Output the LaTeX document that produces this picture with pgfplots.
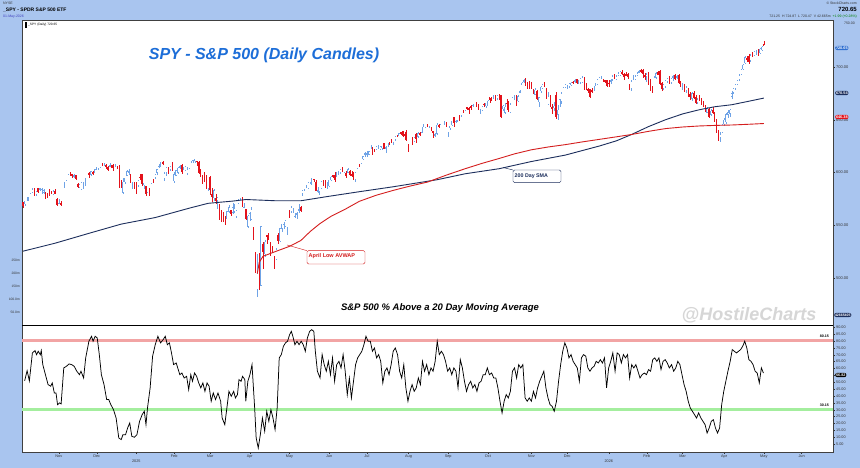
\documentclass[border=0pt]{standalone}
\usepackage{pgfplots}
\pgfplotsset{compat=1.18}
\usepackage{pgfplotstable}
\usepackage{fontspec}
\setmainfont{Liberation Sans}
\definecolor{bgblue}{HTML}{A9C5EF}
\definecolor{upc}{HTML}{6FA3E6}
\definecolor{dnc}{HTML}{E3121B}
\definecolor{smac}{HTML}{1C2E5C}
\definecolor{vwapc}{HTML}{D41E1E}
\definecolor{titlec}{HTML}{1D6ED8}
\definecolor{pinkband}{HTML}{F2A4A4}
\definecolor{greenband}{HTML}{A4EE9E}
\definecolor{labc}{HTML}{333333}
\definecolor{markblue}{HTML}{2F6FD0}

% SPY daily candles: open high low close (from 7-Oct-2024 to 1-May-2026)
\pgfplotstableread[row sep=\\]{
o h l c\\
572 572 566 568\\ 570 573 568 573\\ 573 577 573 577\\ 575 577 573 576\\ 575 580 575 580\\ 581 585 581 584\\ 585 585 578 580\\ 580 582 578 582\\
585 585 581 582\\ 584 585 582 585\\ 584 585 580 584\\ 581 584 580 583\\ 581 581 575 578\\ 580 580 576 579\\ 582 584 578 579\\ 582 582 580 581\\
580 583 579 582\\ 582 584 580 580\\ 575 576 568 569\\
571 575 570 571\\ 571 573 568 570\\ 571 577 571 577\\ 590 591 585 591\\ 593 596 592 596\\ 596 599 596 598\\ 600 600 597 599\\ 598 599 595 597\\
597 599 595 597\\ 597 597 593 594\\ 589 590 585 586\\ 586 589 585 588\\ 584 591 584 590\\ 590 591 584 591\\ 593 595 587 594\\ 593 596 593 596\\
599 600 595 598\\ 598 601 597 601\\ 600 601 598 599\\ 600 603 600 603\\
603 605 602 604\\ 603 604 602 604\\ 605 608 604 608\\ 608 609 606 607\\ 608 609 606 608\\ 607 608 603 605\\ 605 606 601 603\\ 606 609 605 607\\
607 607 604 604\\ 607 608 601 604\\ 606 608 605 607\\ 605 606 603 604\\ 605 607 585 586\\ 592 593 585 586\\ 581 595 580 591\\ 591 595 589 595\\
597 602 597 601\\ 600 603 598 601\\ 598 598 590 595\\ 588 591 584 588\\ 590 591 584 586\\
589 591 580 585\\ 588 593 586 592\\ 596 599 593 595\\ 598 599 587 589\\ 588 590 584 590\\ 587 587 578 580\\ 575 581 575 581\\ 585 585 578 582\\
590 593 589 593\\ 594 594 590 592\\ 596 598 594 598\\ 600 603 598 603\\ 606 608 604 606\\ 605 610 605 610\\ 610 611 607 608\\ 595 600 592 599\\
600 605 597 604\\ 604 605 599 602\\ 603 606 601 605\\ 607 610 601 602\\
592 600 590 598\\ 597 602 597 602\\ 600 605 599 604\\ 605 607 603 606\\ 607 608 599 601\\ 604 605 602 605\\ 602 606 602 605\\ 599 605 598 603\\
604 610 603 610\\ 610 611 609 610\\ 611 612 609 612\\ 611 613 609 613\\ 611 611 606 610\\ 610 611 599 600\\ 602 603 596 597\\ 597 598 589 594\\
596 600 591 594\\ 596 598 585 585\\ 585 594 582 594\\
596 597 579 584\\ 579 585 572 577\\ 576 584 573 583\\ 576 580 570 573\\ 574 577 565 576\\ 568 570 555 561\\ 559 564 553 556\\ 562 563 553 559\\
558 559 550 551\\ 556 563 556 563\\ 563 569 562 567\\ 564 564 559 561\\ 562 571 561 567\\ 563 570 562 566\\ 559 564 557 564\\ 571 575 570 574\\
575 576 574 576\\ 576 577 567 569\\ 567 571 566 567\\ 565 565 555 556\\ 549 560 547 559\\
557 563 554 561\\ 556 567 555 565\\ 546 548 536 537\\ 524 525 505 505\\ 489 523 482 504\\ 522 524 489 497\\ 493 549 493 549\\ 532 534 509 525\\
523 536 520 534\\ 541 541 532 539\\ 539 543 536 538\\ 532 534 521 526\\ 528 530 524 526\\ 521 521 509 514\\ 518 528 517 527\\ 541 543 532 535\\
535 547 534 547\\ 547 551 544 551\\ 551 553 546 551\\ 549 555 548 554\\ 548 555 541 555\\
561 564 557 558\\ 563 568 562 567\\ 564 566 562 564\\ 559 562 557 559\\ 560 563 556 561\\ 564 570 562 565\\ 567 568 563 564\\ 580 583 578 583\\
584 587 582 587\\ 587 588 585 588\\ 585 591 585 590\\ 591 594 589 594\\ 588 595 588 595\\ 594 594 591 593\\ 591 593 582 583\\ 582 586 581 583\\
575 582 575 579\\ 585 592 585 591\\ 592 593 587 587\\ 593 593 585 590\\ 588 591 584 589\\
587 593 586 593\\ 593 597 592 596\\ 597 598 595 596\\ 597 600 591 593\\ 598 600 596 599\\ 600 601 598 600\\ 600 603 599 603\\ 605 605 600 601\\
600 604 600 604\\ 599 601 595 597\\ 600 604 600 603\\ 601 602 597 598\\ 598 601 596 597\\ 599 600 593 594\\ 594 600 591 600\\ 604 607 603 607\\
608 608 605 607\\ 609 612 608 612\\ 613 616 612 615\\ 617 619 615 618\\
617 620 615 618\\ 617 620 617 620\\ 622 626 622 625\\ 623 624 617 621\\ 622 622 619 620\\ 622 625 621 624\\ 624 626 622 625\\ 622 625 621 624\\
623 625 621 625\\ 628 628 622 622\\ 623 625 618 624\\ 625 628 624 628\\ 629 629 626 628\\ 630 632 628 629\\ 629 629 626 629\\ 632 634 630 634\\
635 636 634 634\\ 635 637 635 637\\ 638 638 636 637\\ 639 639 634 635\\ 636 638 631 635\\ 640 640 630 632\\
626 627 619 622\\ 625 631 625 631\\ 633 633 626 628\\ 630 633 629 633\\ 636 637 628 632\\ 634 638 633 637\\ 637 638 635 636\\ 638 643 637 643\\
645 646 643 645\\ 643 645 642 645\\ 645 646 643 643\\ 643 644 642 643\\ 643 643 639 640\\ 639 639 633 638\\ 636 637 634 636\\ 637 647 636 645\\
645 646 642 643\\ 642 646 642 645\\ 644 647 644 647\\ 648 649 645 649\\ 648 648 643 645\\
638 640 634 640\\ 642 644 640 644\\ 645 649 644 649\\ 652 652 643 647\\ 649 650 647 649\\ 649 650 648 650\\ 654 654 649 652\\ 654 658 653 658\\
658 659 656 657\\ 659 661 658 661\\ 662 662 659 660\\ 661 662 655 659\\ 663 664 659 662\\ 663 665 662 664\\ 663 667 663 667\\ 667 667 662 663\\
665 665 659 661\\ 657 660 655 658\\ 659 663 658 662\\ 665 666 662 664\\ 663 666 661 666\\
663 669 663 668\\ 671 671 666 669\\ 670 672 668 669\\ 671 673 670 672\\ 673 673 668 669\\ 670 673 669 673\\ 674 674 669 671\\ 673 673 652 653\\
660 664 658 663\\ 657 666 655 662\\ 666 670 659 665\\ 667 668 657 661\\ 657 666 656 664\\ 667 672 667 671\\ 671 673 669 671\\ 672 673 663 668\\
668 673 667 672\\ 676 678 675 677\\ 683 686 683 685\\ 687 689 685 687\\ 689 690 682 687\\ 685 686 679 680\\ 686 687 679 682\\
685 686 679 683\\ 676 679 674 675\\ 674 680 673 678\\ 677 678 669 670\\ 667 672 662 671\\ 677 682 675 681\\ 680 684 679 683\\ 685 686 681 683\\
680 680 670 672\\ 665 676 664 672\\ 670 673 662 666\\ 662 665 655 660\\ 661 667 658 663\\ 673 676 651 653\\ 655 664 650 659\\ 663 670 662 669\\
668 676 665 675\\ 676 681 676 680\\ 681 684 680 683\\
680 683 679 681\\ 682 685 680 684\\ 683 686 682 685\\ 686 687 684 685\\ 686 689 685 687\\ 688 689 684 685\\ 685 688 684 686\\ 686 690 684 689\\
686 691 685 690\\ 690 690 678 681\\ 684 685 678 679\\ 679 680 675 678\\ 679 679 671 672\\ 678 680 675 677\\ 679 682 677 681\\ 684 685 682 684\\
684 688 683 688\\ 688 690 688 690\\ 690 691 689 690\\ 688 689 686 687\\ 687 688 685 686\\ 687 687 681 682\\
685 688 681 684\\ 686 689 684 687\\ 688 692 687 691\\ 692 693 689 690\\ 689 692 688 691\\ 692 695 691 694\\ 692 696 691 695\\ 695 697 692 694\\
693 694 688 691\\ 693 695 691 692\\ 693 694 689 691\\ 683 684 678 679\\ 680 688 677 686\\ 690 692 688 690\\ 689 692 688 691\\ 692 695 691 694\\
695 697 694 696\\ 697 698 694 696\\ 697 698 690 694\\ 692 694 688 691\\
691 694 686 693\\ 694 695 683 688\\ 688 689 677 681\\ 679 682 675 678\\ 680 691 680 690\\ 690 695 689 694\\ 695 696 692 693\\ 696 697 683 684\\
685 686 677 679\\ 680 684 678 683\\ 682 688 680 687\\ 687 690 685 689\\ 690 691 684 686\\ 686 690 684 689\\ 690 692 687 691\\ 692 693 688 689\\
690 692 689 691\\ 692 693 684 685\\ 685 687 681 684\\
682 685 678 683\\ 683 684 676 678\\ 678 682 675 680\\ 679 680 672 674\\ 674 676 669 672\\ 670 676 668 675\\ 675 677 670 671\\ 671 673 665 666\\
667 671 665 669\\ 672 673 668 670\\ 669 671 664 665\\ 667 668 662 663\\ 662 664 657 658\\ 657 662 656 660\\ 660 661 652 653\\ 655 660 654 658\\
659 662 655 657\\ 656 657 648 649\\ 650 651 637 638\\ 638 640 630 632\\ 633 638 629 636\\ 638 646 637 645\\
646 652 644 650\\ 648 656 646 655\\ 655 659 652 657\\ 656 660 653 659\\ 672 677 670 675\\ 676 680 674 679\\ 680 684 678 683\\ 684 688 683 687\\
688 693 687 692\\ 693 698 692 697\\ 698 703 697 702\\ 704 710 703 709\\ 708 710 705 707\\ 710 712 703 705\\ 706 712 705 711\\ 712 714 709 710\\
711 715 710 714\\ 714 716 711 715\\ 715 717 710 712\\ 713 718 712 717\\ 716 720 715 719\\
721.25 724.87 720.47 720.65\\
}\spy

% 200-day SMA (trading-day index, price)
\pgfplotstableread[row sep=\\]{
d p\\ 0 525.4\\ 17 533.0\\ 35 542.4\\ 52 551.1\\ 70 557.3\\ 88 566.2\\ 98 570.8\\ 111 572.9\\ 118 574.4\\ 134 573.2\\ 147 573.2\\ 161 577.2\\ 178 581.8\\ 196 586.5\\ 219 593.1\\ 234 598.8\\ 252 603.6\\ 269 610.4\\ 287 616.5\\ 305 625.1\\ 314 630.0\\ 322 636.0\\ 331 643.5\\ 340 650.0\\ 349 655.5\\ 358 659.5\\ 366 662.3\\ 375 664.2\\ 384 667.5\\ 392 670.5\\
}\sma

% April-low anchored VWAP
\pgfplotstableread[row sep=\\]{
d p\\ 124 504.2\\ 125 514.8\\ 127 520.6\\ 133 524.7\\ 141 530.0\\ 147 535.5\\ 152 544.1\\ 157 551.4\\ 163 558.5\\ 170 564.7\\ 178 572.7\\ 187 578.5\\ 196 583.1\\ 205 587.2\\ 214 590.9\\ 224 597.5\\ 234 603.6\\ 243 608.7\\ 252 613.3\\ 260 617.6\\ 269 621.5\\ 278 624.2\\ 287 626.4\\ 296 629.0\\ 305 631.4\\ 314 633.8\\ 322 636.0\\ 331 639.0\\ 340 641.6\\ 349 643.1\\ 358 644.1\\ 366 644.6\\ 375 645.0\\ 384 645.7\\ 392 646.4\\
}\vwap

% S&P 500 % above 20-day moving average
\pgfplotstableread[row sep=\\]{
d v\\
0.9 51\\ 2.2 58.4\\ 3.4 51\\ 5 71.3\\ 6.4 73\\ 7.2 70\\ 8.1 72.5\\ 9.2 70\\ 9.7 73\\ 10.5 62.8\\ 11.9 55.5\\ 13.3 48.3\\ 14.7 47.1\\ 15.5 49.5\\ 16.6 42.2\\ 17.5 42.2\\ 18.3 33.7\\ 19.4 35\\ 20.2 34.2\\ 21.6 60.4\\
23 61.6\\ 24.4 63.3\\ 25.8 62.8\\ 27.1 61.6\\ 28.5 58\\ 29.9 55.5\\ 30.7 58\\ 32.1 53.1\\ 33.2 67.7\\ 34.9 79.8\\ 36.3 83.4\\ 37.1 79.8\\ 38.2 83.4\\ 39.3 82.2\\ 40.4 70.1\\ 41.5 55.5\\ 42.9 48.3\\ 44.3 37.4\\ 45.4 37.4\\ 46.5 33.7\\
47.9 30.1\\ 49.3 24\\ 50.7 9.5\\ 52 8.3\\ 52.9 11.9\\ 54.3 11.9\\ 55.4 16.8\\ 56.5 20.4\\ 57.6 10.7\\ 59 10\\ 60.3 11.9\\ 61.7 21.6\\ 63.1 26.5\\ 64.2 28.9\\ 65.1 19.2\\ 65.9 31.3\\ 67.3 45.9\\ 68.6 68.9\\ 70 77.3\\ 71.4 83.4\\
72.8 78.6\\ 74.2 81\\ 75.3 83.4\\ 76.4 77.3\\ 77.5 78.6\\ 78.6 71.3\\ 79.7 62.8\\ 81.1 64\\ 81.9 60.4\\ 83 55.5\\ 84.1 56.7\\ 85.3 53.1\\ 86.6 54.3\\ 87.7 44.6\\ 88.8 55.5\\ 89.7 50.7\\ 90.8 56.7\\ 91.9 54.3\\ 93 49.5\\ 94.1 45.9\\
95.2 49.5\\ 96.3 43.4\\ 97.4 49.5\\ 98.5 47.1\\ 99.6 36.2\\ 100.7 42.2\\ 101.9 37.4\\ 103.2 42.2\\ 104.6 36.2\\ 105.4 24\\ 106.8 19.2\\ 107.9 31.3\\ 109 43.4\\ 110.2 39.8\\ 111.5 43.4\\ 112.4 38.6\\ 113.5 41\\ 114.3 51.9\\ 115.4 50.7\\ 116.2 54.3\\
117.4 51.9\\ 117.9 36.2\\ 119 50.7\\ 120.1 55.5\\ 121.2 62.8\\ 122.6 31.3\\ 123.4 9.5\\ 124.5 2.2\\ 125.6 11.9\\ 126.7 24\\ 127.9 14.4\\ 129 28.9\\ 130.1 21.6\\ 131.2 30.1\\ 132.3 24\\ 133.4 15.6\\ 134.5 31.3\\ 135.6 67.7\\ 136.7 70.1\\ 137.8 76.1\\
138.9 78.6\\ 140 79.8\\ 141.1 84.6\\ 142 87\\ 142.8 83.4\\ 143.9 77.3\\ 145 79.8\\ 146.1 77.3\\ 147.2 79.8\\ 148.3 77.3\\ 149.4 72.5\\ 150.5 82.2\\ 151.7 87\\ 152.8 88.2\\ 153.9 87\\ 154.7 72.5\\ 155.8 58\\ 157.2 53.1\\ 158.3 70.1\\ 159.4 62.8\\
160.5 58\\ 161.6 65.2\\ 162.7 55.5\\ 163.8 67.7\\ 164.9 50.7\\ 166 62.8\\ 167.2 65.2\\ 168.3 60.4\\ 169.4 70.1\\ 170.5 58\\ 171.6 41\\ 172.7 53.1\\ 173.8 38.6\\ 174.9 50.7\\ 176 62.8\\ 177.1 67.7\\ 178.2 70.1\\ 179.3 72.5\\ 180.4 77.3\\ 181.5 83.4\\
182.6 79.8\\ 183.8 79.8\\ 184.9 72.5\\ 186 74.9\\ 187.1 67.7\\ 188.2 70.1\\ 189.3 65.2\\ 190.4 49.5\\ 191.5 58\\ 192.6 60.4\\ 193.7 55.5\\ 194.8 62.8\\ 195.9 72.5\\ 197 74.9\\ 198.2 70.1\\ 199.3 58\\ 200.4 53.1\\ 201.5 62.8\\ 202.6 45.9\\ 203.7 36.2\\
204.8 43.4\\ 205.9 48.3\\ 207 43.4\\ 208.1 45.9\\ 209.2 53.1\\ 210.3 48.3\\ 211.4 65.2\\ 212.5 58\\ 213.6 62.8\\ 214.8 55.5\\ 215.9 60.4\\ 217 58\\ 218.1 65.2\\ 219.2 79.8\\ 220.3 70.1\\ 221.4 72.5\\ 222.5 70.1\\ 223.6 65.2\\ 224.7 58\\ 225.8 60.4\\
226.9 55.5\\ 228 60.4\\ 229.1 58\\ 230.2 45.9\\ 231.4 66.4\\ 232.5 60.4\\ 233.6 50.7\\ 234.7 43.4\\ 235.8 48.3\\ 236.9 50.7\\ 238 45.9\\ 239.1 48.3\\ 240.2 43.4\\ 241.3 49.5\\ 242.4 50.7\\ 243.5 55.5\\ 244.6 55.5\\ 245.7 60.4\\ 246.8 55.5\\ 248 56.7\\
249.1 53.1\\ 250.2 53.1\\ 251.3 45.9\\ 252.4 36.2\\ 253.5 27.7\\ 254.6 36.2\\ 255.7 41\\ 256.8 38.6\\ 257.9 43.4\\ 259 58\\ 260.1 60.4\\ 261.2 53.1\\ 262.3 62.8\\ 263.4 60.4\\ 264.5 62.8\\ 265.7 38.6\\ 266.8 36.2\\ 267.9 38.6\\ 269 36.2\\ 270.1 43.4\\
271.2 38.6\\ 272.3 45.9\\ 273.4 50.7\\ 274.5 54.3\\ 275.6 58\\ 276.7 45.9\\ 277.8 38.6\\ 278.9 33.7\\ 280 32.5\\ 281.1 28.9\\ 282.3 36.2\\ 283.4 50.7\\ 284.5 62.8\\ 285.6 72.5\\ 286.7 78.6\\ 287.8 74.9\\ 288.9 67.7\\ 290 70.1\\ 291.1 65.2\\ 292.2 62.8\\
293.3 60.4\\ 294.4 50.7\\ 295.5 67.7\\ 296.6 70.1\\ 297.8 68.9\\ 298.9 60.4\\ 300 58\\ 301.1 60.4\\ 302.2 61.6\\ 303.3 65.2\\ 304.4 64\\ 305.5 66.4\\ 306.6 64\\ 307.7 67.7\\ 308.8 45.9\\ 309.9 60.4\\ 311 65.2\\ 312.1 71.3\\ 313.3 58\\ 314.4 71.3\\
315.5 70.1\\ 316.6 64\\ 317.7 70.1\\ 318.8 67.7\\ 319.9 70.1\\ 321 53.1\\ 322.1 62.8\\ 323.2 60.4\\ 324.3 62.8\\ 325.4 58\\ 326.5 53.1\\ 327.6 55.5\\ 328.8 56.7\\ 329.9 55.5\\ 331 59.2\\ 332.1 58\\ 333.2 66.4\\ 334.3 67.7\\ 335.4 65.2\\ 336.5 67.7\\
337.6 59.2\\ 338.7 65.2\\ 339.8 66.4\\ 340.9 64\\ 342 60.4\\ 343.2 62.8\\ 344.3 58\\ 345.4 60.4\\ 346.5 65.2\\ 347.6 62.8\\ 348.7 55.5\\ 349.8 48.3\\ 350.9 43.4\\ 352 36.2\\ 353.1 31.3\\ 354.2 28.9\\ 355.3 26.5\\ 356.4 24\\ 357.5 27.7\\ 358.7 24\\
359.8 21.6\\ 360.9 19.2\\ 362 13.1\\ 363.1 16.8\\ 364.2 21.6\\ 365.3 22.8\\ 366.4 16.8\\ 367.5 13.1\\ 368.6 16.8\\ 369.7 33.7\\ 370.8 43.4\\ 371.9 50.7\\ 373 58\\ 374.2 65.2\\ 375.3 73.7\\ 376.4 72.5\\ 377.5 71.3\\ 378.6 72.5\\ 379.7 73.7\\ 380.8 76.1\\
381.9 79.8\\ 383 74.9\\ 384.1 66.4\\ 385.2 65.2\\ 386.3 62.8\\ 387.4 58\\ 388.5 56.7\\ 389.6 49.5\\ 390.7 60.4\\ 391.8 56.7\\
}\osc

\begin{document}
\begin{tikzpicture}[x=1pt,y=1pt]
\useasboundingbox (0pt,0pt) rectangle (860pt,468pt);
\fill[bgblue] (0pt,0pt) rectangle (860pt,468pt);

% ---------- breadth panel ----------
\begin{axis}[at={(22pt,16pt)}, anchor=south west, scale only axis, width=811pt, height=127pt,
  xmin=-0.5, xmax=428.6, ymin=-0.7, ymax=91.6,
  xtick={19,39,80,99,120,141,162,182,204,225,246,269,288,330,349,371,392,412},
  xticklabels={Nov,Dec,Feb,Mar,Apr,May,Jun,Jul,Aug,Sep,Oct,Nov,Dec,Feb,Mar,Apr,May,Jun},
  extra x ticks={60,310}, extra x tick labels={2025,2026},
  extra x tick style={tick label style={yshift=-5pt}},
  xtick pos=bottom, ytick={5,10,...,90}, ytick pos=right, yticklabel pos=right,
  yticklabel style={/pgf/number format/.cd, fixed, fixed zerofill, precision=2, assume math mode=true},
  tick label style={font=\fontsize{3.8}{4.5}\selectfont, text=labc, inner sep=1pt},
  tick style={draw=labc, line width=0.3pt}, major tick length=2pt, tick align=outside,
  axis line style={draw=black!75, line width=0.4pt},
  axis background/.style={fill=white}]
\addplot[pinkband, line width=3pt, mark=none] coordinates {(-0.5,80.15) (428.6,80.15)};
\addplot[greenband, line width=3pt, mark=none] coordinates {(-0.5,30.15) (428.6,30.15)};
\addplot[black, line width=0.75pt, mark=none] table[x=d, y=v]{\osc};
\end{axis}

% ---------- price panel ----------
\begin{axis}[at={(22pt,143pt)}, anchor=south west, scale only axis, width=811pt, height=305pt,
  xmin=-0.5, xmax=428.6, ymin=455.5, ymax=744.5, xtick=\empty,
  ytick={500,550,600,650,700}, yticklabels={500.00,550.00,600.00,650.00,700.00},
  ytick pos=right, yticklabel pos=right,
  tick label style={font=\fontsize{4}{5}\selectfont, text=labc, inner sep=1pt},
  tick style={draw=labc, line width=0.3pt}, major tick length=2pt, tick align=outside,
  axis line style={draw=black!75, line width=0.4pt},
  axis background/.style={fill=white}]
% up days: hollow light-blue candles (wick, outline, white inside)
\addplot[draw=none, mark=none, forget plot, restrict expr to domain={\thisrow{c}-\thisrow{o}}{0:1000},
  error bars/.cd, y dir=both, y explicit, error mark=none, error bar style={line width=0.4pt, draw=upc}]
  table[x expr=\coordindex, y expr={0.5*(\thisrow{h}+\thisrow{l})}, y error expr={0.5*(\thisrow{h}-\thisrow{l})}]{\spy};
\addplot[draw=none, mark=none, forget plot, restrict expr to domain={\thisrow{c}-\thisrow{o}}{0:1000},
  error bars/.cd, y dir=both, y explicit, error mark=none, error bar style={line width=1.3pt, draw=upc}]
  table[x expr=\coordindex, y expr={0.5*(\thisrow{o}+\thisrow{c})}, y error expr={0.5*abs(\thisrow{c}-\thisrow{o})+0.2}]{\spy};
\addplot[draw=none, mark=none, forget plot, restrict expr to domain={\thisrow{c}-\thisrow{o}}{1.5:1000},
  error bars/.cd, y dir=both, y explicit, error mark=none, error bar style={line width=0.5pt, draw=white}]
  table[x expr=\coordindex, y expr={0.5*(\thisrow{o}+\thisrow{c})}, y error expr={0.5*abs(\thisrow{c}-\thisrow{o})-0.2}]{\spy};
% down days: filled red candles
\addplot[draw=none, mark=none, forget plot, restrict expr to domain={\thisrow{c}-\thisrow{o}}{-1000:-0.001},
  error bars/.cd, y dir=both, y explicit, error mark=none, error bar style={line width=0.4pt, draw=dnc}]
  table[x expr=\coordindex, y expr={0.5*(\thisrow{h}+\thisrow{l})}, y error expr={0.5*(\thisrow{h}-\thisrow{l})}]{\spy};
\addplot[draw=none, mark=none, forget plot, restrict expr to domain={\thisrow{c}-\thisrow{o}}{-1000:-0.001},
  error bars/.cd, y dir=both, y explicit, error mark=none, error bar style={line width=1.3pt, draw=dnc}]
  table[x expr=\coordindex, y expr={0.5*(\thisrow{o}+\thisrow{c})}, y error expr={0.5*abs(\thisrow{c}-\thisrow{o})+0.2}]{\spy};
\addplot[smac, line width=0.9pt, mark=none] table[x=d, y=p]{\sma};
\addplot[vwapc, line width=0.9pt, mark=none] table[x=d, y=p]{\vwap};
\end{axis}
\draw[black, line width=0.8pt] (22pt,143pt) -- (833pt,143pt);

% ---------- texts ----------
\node[font=\fontsize{16}{18}\selectfont\bfseries\itshape, text=titlec] at (264,413) {SPY - S\&P 500 (Daily Candles)};
\node[font=\fontsize{9.5}{11}\selectfont\bfseries\itshape] at (440,160) {S\&P 500 \% Above a 20 Day Moving Average};
\node[font=\fontsize{18}{20}\selectfont\bfseries\itshape, text=black!16] at (749,153) {@HostileCharts};

\draw[vwapc, line width=0.4pt] (287,223) -- (307,217.3);
\draw[vwapc, fill=white, line width=0.4pt, rounded corners=1.5pt] (307,217.3) rectangle (365,204);
\node[anchor=west, font=\fontsize{5.5}{6}\selectfont\bfseries, text=vwapc, inner sep=0pt] at (308.5,211.5) {April Low AVWAP};
\draw[smac, line width=0.4pt] (503,300.5) -- (513,298);
\draw[smac, fill=white, line width=0.4pt, rounded corners=1.5pt] (513,298) rectangle (561,285.3);
\node[anchor=west, font=\fontsize{5.3}{6}\selectfont\bfseries, text=smac, inner sep=0pt] at (514.5,291.6) {200 Day SMA};

\fill[black] (25,440) rectangle (26.5,446);
\node[anchor=west, font=\fontsize{3.2}{4}\selectfont, inner sep=0pt] at (28,443) {\_SPY (Daily) 720.65};

\node[anchor=north west, font=\fontsize{3.5}{4}\selectfont, text=labc, inner sep=0pt] at (3,466) {NYSE};
\node[anchor=north west, font=\fontsize{5}{6}\selectfont\bfseries, inner sep=0pt] at (3,460) {\_SPY - SPDR S\&P 500 ETF};
\node[anchor=north west, font=\fontsize{3.5}{4}\selectfont, text=blue!50!gray, inner sep=0pt] at (3,453) {01-May-2026};
\node[anchor=north east, font=\fontsize{3.5}{4}\selectfont, text=labc, inner sep=0pt] at (857,466) {\copyright\ StockCharts.com};
\node[anchor=north east, font=\fontsize{6}{7}\selectfont\bfseries, inner sep=0pt] at (857,460.5) {720.65};
\node[anchor=north east, font=\fontsize{3.5}{4}\selectfont, text=labc, inner sep=0pt] at (857,453) {721.25 \ H 724.87 \ L 720.47 \ V 42.665m \ \textcolor{green!50!black}{+1.99 (+0.28\%)}};
\node[anchor=east, font=\fontsize{3.5}{4}\selectfont, text=labc, inner sep=0pt] at (855,445) {750.00};

\foreach \t/\yy in {250m/208,200m/195,150m/182,100.0m/169,50.0m/156}
  \node[anchor=east, font=\fontsize{3.3}{4}\selectfont, text=labc, inner sep=0pt] at (20,\yy) {\t};

\node[anchor=west, fill=markblue, text=white, rounded corners=2pt, inner sep=0.8pt, font=\fontsize{3.8}{4.5}\selectfont\bfseries] at (835,420) {720.65};
\node[anchor=west, fill=smac, text=white, rounded corners=2pt, inner sep=0.8pt, font=\fontsize{3.8}{4.5}\selectfont\bfseries] at (835,375) {670.54};
\node[anchor=west, fill=dnc, text=white, rounded corners=2pt, inner sep=0.8pt, font=\fontsize{3.8}{4.5}\selectfont\bfseries] at (835,351) {646.38};
\node[anchor=west, fill=smac, text=white, rounded corners=2pt, inner sep=0.8pt, font=\fontsize{3.5}{4.5}\selectfont\bfseries] at (834,153) {42665405};
\node[anchor=west, fill=black, text=white, rounded corners=2pt, inner sep=0.8pt, font=\fontsize{3.8}{4.5}\selectfont\bfseries] at (835,93) {56.82};
\node[anchor=east, font=\fontsize{3.6}{4.5}\selectfont\bfseries, inner sep=0pt] at (829,132) {80.15};
\node[anchor=east, font=\fontsize{3.6}{4.5}\selectfont\bfseries, inner sep=0pt] at (829,63) {30.15};
\end{tikzpicture}
\end{document}
